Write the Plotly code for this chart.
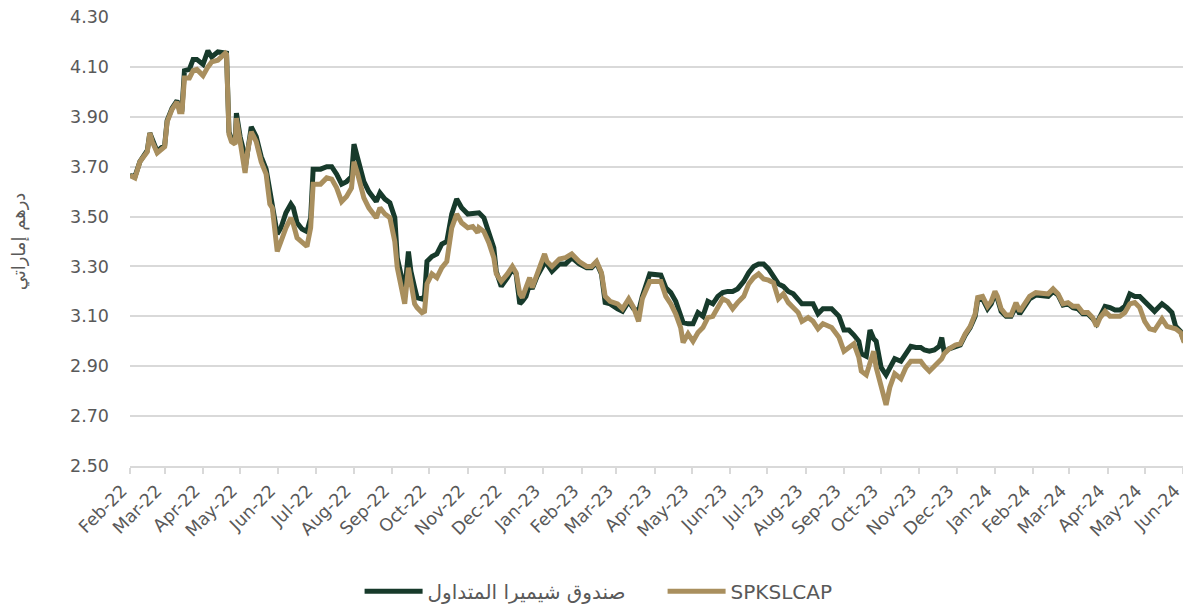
import plotly.graph_objects as go

dates = [
    "2022-02-01","2022-02-05","2022-02-09","2022-02-13","2022-02-15","2022-02-17","2022-02-19","2022-02-23","2022-02-26",
    "2022-03-01","2022-03-03","2022-03-07","2022-03-11","2022-03-13","2022-03-15","2022-03-17","2022-03-21","2022-03-24","2022-03-27",
    "2022-04-01","2022-04-05","2022-04-08","2022-04-13","2022-04-19","2022-04-20","2022-04-22","2022-04-24","2022-04-27","2022-04-28",
    "2022-05-01","2022-05-03","2022-05-05","2022-05-07","2022-05-10","2022-05-14","2022-05-18","2022-05-22","2022-05-25","2022-05-27","2022-05-31",
    "2022-06-03","2022-06-07","2022-06-11","2022-06-13","2022-06-16","2022-06-20","2022-06-24","2022-06-27","2022-06-29",
    "2022-07-05","2022-07-10","2022-07-14","2022-07-18","2022-07-22","2022-07-26","2022-07-30",
    "2022-08-01","2022-08-04","2022-08-07","2022-08-09","2022-08-13","2022-08-19","2022-08-22","2022-08-26","2022-08-30",
    "2022-09-03","2022-09-05","2022-09-08","2022-09-11","2022-09-14","2022-09-16","2022-09-19","2022-09-21","2022-09-25","2022-09-27","2022-09-29",
    "2022-10-03","2022-10-07","2022-10-11","2022-10-15","2022-10-19","2022-10-23","2022-10-27",
    "2022-11-01","2022-11-05","2022-11-09","2022-11-10","2022-11-14","2022-11-18","2022-11-22","2022-11-24","2022-11-28",
    "2022-12-03","2022-12-07","2022-12-10","2022-12-13","2022-12-15","2022-12-18","2022-12-21","2022-12-23","2022-12-27",
    "2023-01-02","2023-01-04","2023-01-08","2023-01-14","2023-01-19","2023-01-24","2023-01-30",
    "2023-02-05","2023-02-09","2023-02-13","2023-02-17","2023-02-20","2023-02-24",
    "2023-03-02","2023-03-06","2023-03-11","2023-03-15","2023-03-19","2023-03-22","2023-03-28",
    "2023-04-02","2023-04-06","2023-04-10","2023-04-14","2023-04-18","2023-04-22","2023-04-24","2023-04-28",
    "2023-05-02","2023-05-06","2023-05-10","2023-05-14","2023-05-18","2023-05-22","2023-05-26","2023-05-30",
    "2023-06-03","2023-06-07","2023-06-12","2023-06-16","2023-06-20","2023-06-24","2023-06-28",
    "2023-07-02","2023-07-06","2023-07-10","2023-07-14","2023-07-18","2023-07-22","2023-07-26","2023-07-29",
    "2023-08-03","2023-08-07","2023-08-11","2023-08-15","2023-08-22","2023-08-28",
    "2023-09-01","2023-09-05","2023-09-09","2023-09-13","2023-09-15","2023-09-19","2023-09-22","2023-09-25","2023-09-27",
    "2023-10-01","2023-10-05","2023-10-08","2023-10-12","2023-10-17","2023-10-21","2023-10-25","2023-10-29",
    "2023-11-02","2023-11-05","2023-11-09","2023-11-13","2023-11-17","2023-11-19","2023-11-21","2023-11-25","2023-11-30",
    "2023-12-04","2023-12-08","2023-12-12","2023-12-16","2023-12-18","2023-12-22","2023-12-26","2023-12-29",
    "2024-01-01","2024-01-03","2024-01-06","2024-01-10","2024-01-14","2024-01-18","2024-01-21","2024-01-25","2024-01-29",
    "2024-02-03","2024-02-09","2024-02-13","2024-02-17","2024-02-21","2024-02-25","2024-02-29",
    "2024-03-04","2024-03-08","2024-03-12","2024-03-16","2024-03-20","2024-03-23","2024-03-26","2024-03-30",
    "2024-04-03","2024-04-07","2024-04-11","2024-04-15","2024-04-19","2024-04-23","2024-04-27",
    "2024-05-01","2024-05-05","2024-05-09","2024-05-13","2024-05-15","2024-05-19","2024-05-23","2024-05-26","2024-05-30",
    "2024-06-02",
]

index_values = [
    3.665,3.655,3.72,3.75,3.76,3.835,3.80,3.755,3.77,
    3.78,3.88,3.93,3.96,3.92,3.92,4.055,4.055,4.085,4.09,
    4.065,4.10,4.12,4.127,4.155,4.15,3.83,3.80,3.79,3.895,
    3.80,3.76,3.675,3.76,3.84,3.80,3.72,3.67,3.55,3.535,3.36,
    3.40,3.455,3.495,3.47,3.415,3.395,3.38,3.455,3.63,
    3.63,3.655,3.65,3.615,3.56,3.58,3.615,
    3.72,3.67,3.615,3.575,3.535,3.495,3.535,3.51,3.495,
    3.40,3.295,3.215,3.15,3.295,3.24,3.15,3.135,3.115,3.12,3.23,
    3.27,3.255,3.295,3.32,3.455,3.51,3.475,
    3.455,3.46,3.435,3.455,3.44,3.395,3.335,3.27,3.24,
    3.27,3.30,3.275,3.19,3.175,3.215,3.255,3.215,3.275,
    3.35,3.32,3.30,3.33,3.335,3.35,3.32,
    3.30,3.30,3.32,3.275,3.18,3.16,
    3.15,3.13,3.17,3.135,3.08,3.17,3.24,
    3.24,3.24,3.18,3.15,3.11,3.055,2.995,3.03,
    3.00,3.035,3.055,3.095,3.10,3.135,3.17,3.16,
    3.13,3.155,3.18,3.23,3.255,3.27,3.25,
    3.245,3.235,3.17,3.19,3.155,3.135,3.115,3.08,
    3.095,3.08,3.05,3.07,3.055,3.015,
    2.96,2.975,2.99,2.935,2.88,2.865,2.92,2.96,2.895,
    2.815,2.745,2.815,2.87,2.85,2.895,2.92,2.92,
    2.92,2.90,2.88,2.90,2.92,2.93,2.95,2.97,2.985,
    2.99,3.03,3.06,3.11,3.175,3.18,3.14,3.16,
    3.20,3.18,3.13,3.105,3.105,3.155,3.12,3.15,3.18,
    3.195,3.195,3.19,3.21,3.19,3.15,3.155,
    3.14,3.14,3.115,3.115,3.095,3.06,3.095,3.12,
    3.10,3.10,3.10,3.115,3.15,3.155,3.135,
    3.08,3.05,3.045,3.07,3.09,3.06,3.055,3.05,3.035,
    2.995,
]

fund_values = [
    3.665,3.66,3.72,3.75,3.765,3.835,3.805,3.76,3.775,
    3.785,3.885,3.935,3.965,3.93,3.93,4.085,4.09,4.13,4.13,
    4.11,4.165,4.14,4.16,4.155,4.155,3.84,3.81,3.80,3.915,
    3.82,3.78,3.69,3.77,3.86,3.82,3.74,3.69,3.60,3.56,3.43,
    3.455,3.515,3.55,3.535,3.475,3.45,3.44,3.495,3.69,
    3.69,3.70,3.70,3.67,3.63,3.64,3.66,
    3.79,3.735,3.69,3.64,3.60,3.56,3.595,3.57,3.555,
    3.495,3.335,3.27,3.20,3.36,3.28,3.215,3.175,3.17,3.18,3.32,
    3.34,3.35,3.39,3.40,3.51,3.57,3.535,
    3.51,3.51,3.51,3.515,3.495,3.44,3.375,3.28,3.22,
    3.255,3.29,3.27,3.15,3.16,3.18,3.23,3.21,3.26,
    3.315,3.31,3.28,3.31,3.31,3.335,3.31,
    3.295,3.295,3.315,3.27,3.155,3.15,
    3.13,3.12,3.16,3.13,3.12,3.18,3.27,
    3.27,3.265,3.215,3.195,3.16,3.11,3.075,3.07,
    3.07,3.115,3.10,3.16,3.15,3.18,3.195,3.20,
    3.20,3.21,3.24,3.275,3.30,3.31,3.31,
    3.29,3.26,3.23,3.22,3.20,3.19,3.17,3.15,
    3.15,3.15,3.11,3.13,3.13,3.10,
    3.045,3.045,3.025,3.00,2.95,2.94,3.045,3.01,3.00,
    2.895,2.865,2.895,2.93,2.92,2.95,2.98,2.975,
    2.975,2.965,2.96,2.965,2.98,3.015,2.955,2.97,2.98,
    2.985,3.025,3.055,3.10,3.165,3.17,3.13,3.15,
    3.19,3.17,3.12,3.10,3.10,3.14,3.11,3.14,3.17,
    3.185,3.185,3.18,3.20,3.185,3.145,3.15,
    3.135,3.13,3.11,3.11,3.09,3.07,3.10,3.14,
    3.135,3.125,3.125,3.14,3.19,3.18,3.18,
    3.16,3.14,3.12,3.14,3.15,3.135,3.115,3.06,3.04,
    3.00,
]

fund_name = "صندوق شيميرا المتداول"
index_name = "SPKSLCAP"
y_title = "درهم إماراتي"
y_ticks = [2.50, 2.70, 2.90, 3.10, 3.30, 3.50, 3.70, 3.90, 4.10, 4.30]

GREEN = "#173a2b"
TAN = "#a98f5e"
GRID = "#d9d9d9"
TXT = "#595959"
FONT = "DejaVu Sans"

fig = go.Figure()
fig.add_trace(go.Scatter(x=dates, y=fund_values, name=fund_name, mode="lines",
                         line=dict(color=GREEN, width=5)))
fig.add_trace(go.Scatter(x=dates, y=index_values, name=index_name, mode="lines",
                         line=dict(color=TAN, width=5)))

# page body has an 8px margin, so the figure is sized/offset to fit the 1191x605 view
fig.update_layout(
    width=1183, height=597,
    margin=dict(l=122, r=3, t=8.5, b=139, autoexpand=False),
    plot_bgcolor="white", paper_bgcolor="white",
    font=dict(family=FONT, color=TXT, size=17),
    showlegend=True,
    legend=dict(orientation="h", x=0.217, xanchor="left", y=-0.279, yanchor="middle",
                font=dict(size=20, color=TXT, family=FONT), traceorder="normal",
                itemwidth=58, entrywidth=230, entrywidthmode="pixels"),
)
fig.update_xaxes(
    type="date", range=["2022-02-01", "2024-06-05"], automargin=False,
    tick0="2022-02-01", dtick="M1", tickformat="%b-%y", tickangle=-45,
    showgrid=False, showline=True, linecolor=GRID, linewidth=1.5,
    ticks="outside", ticklen=6, tickcolor=GRID, tickwidth=1.5,
    ticklabelshift=-8, ticklabeloverflow="allow",
    tickfont=dict(size=17.5, color=TXT, family=FONT),
)
fig.update_yaxes(
    range=[2.5, 4.3], tickvals=y_ticks, tickformat=".2f", automargin=False,
    showgrid=True, gridcolor=GRID, gridwidth=1.5, zeroline=False, showline=False,
    ticks="", ticklabelstandoff=20, ticklabeloverflow="allow",
    tickfont=dict(size=17.5, color=TXT, family=FONT),
    title=dict(text=y_title, font=dict(size=18, color=TXT, family=FONT), standoff=52),
)

fig.write_html("out.html")
